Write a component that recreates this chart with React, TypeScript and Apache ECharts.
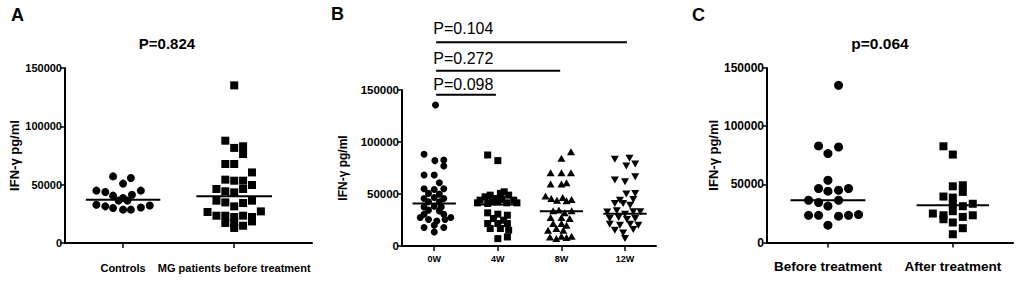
import React, { useEffect, useRef } from "react";
import * as echarts from "echarts";

// ---------- Panel A ----------
const panelACategories = ["Controls", "MG patients before treatment"];
const controlsValues = [57100, 55700, 50900, 44900, 43700, 44900, 40600, 41400, 38600, 36300, 36300, 32800, 31400, 30000, 28600, 28600, 30500, 32200];
const controlsJitter = [-0.09, 0.07, 0, -0.24, -0.16, 0.16, -0.09, 0.08, 0, -0.04, 0.04, -0.24, -0.16, -0.09, 0, 0.07, 0.16, 0.24];
const mgValues = [135100, 87700, 81500, 82900, 76300, 67700, 67700, 60500, 54300, 53400, 53400, 49700, 46300, 44300, 43400, 46300, 36300, 34800, 31400, 34300, 36300, 26600, 23400, 23400, 17200, 22300, 17000, 23400, 22300, 18500, 27100, 12900, 14800];
const mgJitter = [0, -0.08, 0, 0.08, 0.08, -0.08, 0, 0.16, -0.08, 0, 0.08, 0.16, -0.16, -0.08, 0, 0.08, -0.16, -0.08, 0, 0.08, 0.16, -0.24, -0.16, -0.08, -0.08, 0, 0, 0.08, 0.16, 0.16, 0.24, 0, 0.08];
const panelAMeans = [37100, 40000];
const panelATitle = "P=0.824";

// ---------- Panel B ----------
const panelBCategories = ["0W", "4W", "8W", "12W"];
const w0Values = [135500, 88200, 82100, 82700, 76900, 68200, 68200, 60800, 55000, 54400, 55000, 50600, 49900, 45700, 46700, 45700, 42500, 42500, 37600, 38300, 37600, 34500, 33800, 30600, 30600, 27400, 25500, 24100, 25500, 27400, 17800, 20000, 17800, 13500];
const w0Jitter = [0.02, -0.16, 0.01, 0.15, 0.15, -0.16, 0, 0.08, -0.16, 0, 0.15, -0.09, 0.08, -0.16, 0, 0.15, -0.09, 0.08, -0.16, 0, 0.11, -0.09, 0.08, -0.16, 0.15, -0.22, -0.09, 0.04, 0.17, 0.26, -0.16, 0, 0.15, 0];
const w4Values = [87500, 82100, 41500, 44100, 47300, 40900, 48900, 42500, 45700, 42500, 50600, 44800, 52100, 41500, 48900, 44100, 41500, 31900, 30600, 29600, 26400, 24800, 21600, 21600, 21600, 16800, 16800, 15200, 7100, 8700];
const w4Jitter = [-0.16, 0, -0.32, -0.28, -0.2, -0.16, -0.12, -0.09, -0.04, 0, 0.04, 0.06, 0.1, 0.14, 0.17, 0.25, 0.3, -0.16, 0, 0.15, -0.07, 0.09, -0.16, 0, 0.15, -0.12, 0.04, 0.17, 0, 0.15];
const w8Values = [90700, 84400, 70500, 70500, 70500, 59600, 59600, 60800, 48000, 45700, 44100, 46700, 43400, 44800, 33800, 34500, 31900, 33800, 27400, 27400, 26400, 21600, 21600, 20000, 15200, 16800, 15200, 8700, 7100, 9400, 8100, 9400];
const w8Jitter = [0.15, 0, -0.17, 0, 0.15, -0.17, 0, 0.08, -0.25, -0.16, -0.07, 0.02, 0.08, 0.16, -0.13, -0.04, 0.05, 0.16, -0.17, 0, 0.13, -0.13, 0, 0.08, -0.21, -0.08, 0.03, -0.18, -0.08, 0, 0.08, 0.16];
const w12Values = [83400, 84400, 78900, 76900, 63400, 61800, 66600, 49900, 50600, 44100, 44800, 40900, 40900, 39300, 32800, 33800, 30600, 32900, 32900, 26400, 27400, 25500, 26400, 20900, 20000, 20900, 20000, 15200, 12600, 15800, 7100];
const w12Jitter = [-0.16, 0.07, 0.16, 0.02, -0.16, 0, 0.16, 0.02, 0.16, -0.08, 0.13, -0.16, -0.03, 0.08, -0.28, -0.13, 0, 0.13, 0.24, -0.24, -0.1, 0.03, 0.16, -0.24, -0.08, 0.08, 0.21, -0.16, -0.03, 0.13, 0];
const panelBMeans = [40900, 40000, 33500, 31000];
const bracketLabels = ["P=0.098", "P=0.272", "P=0.104"];
const bracketStart = [1.03, 1.03, 1.03];
const bracketEnd = [1.97, 2.98, 4.03];
const bracketLevel = [145500, 168600, 195900];
const bracketTextX = [0.985, 0.985, 0.985];
const bracketTextLevel = [155100, 179900, 208900];

// ---------- Panel C ----------
const panelCCategories = ["Before treatment", "After treatment"];
const beforeValues = [135100, 83000, 82100, 76400, 53500, 46400, 44100, 44900, 46400, 36300, 34400, 31300, 36300, 23400, 23400, 22600, 23400, 24000, 14900];
const beforeJitter = [0.085, -0.075, 0.085, 0, 0, -0.075, 0, 0.085, 0.165, -0.155, -0.075, 0, 0.085, -0.155, -0.075, 0.085, 0.165, 0.245, 0];
const afterValues = [82700, 75600, 48300, 49200, 43500, 39500, 38600, 32900, 31200, 33300, 24900, 23400, 26900, 22000, 23400, 20000, 17200, 12300, 7100];
const afterJitter = [-0.075, 0, 0, 0.08, 0.08, -0.075, 0, 0, 0.08, 0.16, -0.16, -0.075, 0, 0.08, 0.16, -0.075, 0, 0.08, 0];
const panelCMeans = [36300, 32000];
const panelCTitle = "p=0.064";

const yTicks = { min: 0, max: 150000, interval: 50000 };
const FONT = "Liberation Sans, Arial, Helvetica, sans-serif";
const BLACK = "#000000";

function pts(cat: number, values: number[], jitter: number[]) {
  return values.map((v, i) => [cat + jitter[i], v]);
}

function dots(idx: number, cat: number, values: number[], jitter: number[], symbol: string, size: number | number[], rotate = 0) {
  return {
    type: "scatter",
    xAxisIndex: idx,
    yAxisIndex: idx,
    data: pts(cat, values, jitter),
    symbol,
    symbolSize: size,
    symbolRotate: rotate,
    itemStyle: { color: BLACK, opacity: 1 },
    silent: true,
    z: 3,
  };
}

function meanLine(idx: number, cat: number, mean: number, half: number) {
  return {
    type: "line",
    xAxisIndex: idx,
    yAxisIndex: idx,
    data: [
      [cat - half, mean],
      [cat + half, mean],
    ],
    symbol: "none",
    lineStyle: { color: BLACK, width: 2 },
    silent: true,
    z: 4,
  };
}

function xAxis(idx: number, cats: string[], min: number, max: number, fontSize: number, margin: number) {
  const vals = cats.map((_, i) => i + 1);
  return {
    gridIndex: idx,
    type: "value",
    min,
    max,
    axisLine: { show: true, onZero: false, lineStyle: { color: BLACK, width: 2 } },
    axisTick: { show: true, customValues: vals, length: 5, lineStyle: { color: BLACK, width: 1.5 } },
    axisLabel: {
      customValues: vals,
      formatter: (v: number) => cats[Math.round(v) - 1] ?? "",
      fontSize,
      fontWeight: "bold",
      color: BLACK,
      fontFamily: FONT,
      margin,
    },
    splitLine: { show: false },
  };
}

function yAxis(idx: number, fontSize: number, nameGap: number, nameSize: number) {
  return {
    gridIndex: idx,
    type: "value",
    ...yTicks,
    axisLine: { show: true, lineStyle: { color: BLACK, width: 2 } },
    axisTick: { show: true, length: 5, lineStyle: { color: BLACK, width: 1.5 } },
    axisLabel: {
      fontSize,
      fontWeight: "bold",
      color: BLACK,
      fontFamily: FONT,
      margin: 3,
      formatter: (v: number) => String(v),
    },
    splitLine: { show: false },
    name: "IFN-γ pg/ml",
    nameLocation: "middle",
    nameGap,
    nameTextStyle: { fontSize: nameSize, fontWeight: "bold", color: BLACK, fontFamily: FONT },
  };
}

export default function App() {
  const ref = useRef<HTMLDivElement>(null);

  useEffect(() => {
    document.body.style.margin = "0";
    if (!ref.current) return;
    const chart = echarts.init(ref.current, null, { renderer: "svg" });

    const series: any[] = [
      dots(0, 1, controlsValues, controlsJitter, "circle", 8),
      dots(0, 2, mgValues, mgJitter, "rect", 8),
      meanLine(0, 1, panelAMeans[0], 0.335),
      meanLine(0, 2, panelAMeans[1], 0.34),

      dots(1, 1, w0Values, w0Jitter, "circle", 7),
      dots(1, 2, w4Values, w4Jitter, "rect", 7),
      dots(1, 3, w8Values, w8Jitter, "triangle", [8, 7]),
      dots(1, 4, w12Values, w12Jitter, "triangle", [8, 7], 180),
      ...panelBMeans.map((m, i) => meanLine(1, i + 1, m, 0.34)),
      ...bracketLabels.map((_, i) => ({
        type: "line",
        xAxisIndex: 1,
        yAxisIndex: 1,
        clip: false,
        data: [
          [bracketStart[i], bracketLevel[i]],
          [bracketEnd[i], bracketLevel[i]],
        ],
        symbol: "none",
        lineStyle: { color: BLACK, width: 2 },
        silent: true,
      })),
      {
        type: "scatter",
        xAxisIndex: 1,
        yAxisIndex: 1,
        clip: false,
        symbolSize: 0,
        itemStyle: { color: BLACK },
        data: bracketTextX.map((x, i) => [x, bracketTextLevel[i]]),
        label: {
          show: true,
          position: "right",
          distance: 0,
          formatter: (p: any) => bracketLabels[p.dataIndex],
          fontSize: 16,
          color: BLACK,
          opacity: 1,
          fontFamily: FONT,
        },
        silent: true,
      },

      dots(2, 1, beforeValues, beforeJitter, "circle", 9),
      dots(2, 2, afterValues, afterJitter, "rect", 8),
      meanLine(2, 1, panelCMeans[0], 0.3),
      meanLine(2, 2, panelCMeans[1], 0.29),
    ];

    const txt = (text: string, x: number, y: number, size: number, bold = true) => ({
      type: "text",
      x,
      y,
      silent: true,
      style: {
        text,
        fontSize: size,
        fontWeight: bold ? "bold" : "normal",
        fontFamily: FONT,
        fill: BLACK,
        textAlign: "center",
        textVerticalAlign: "middle",
      },
    });

    chart.setOption({
      animation: false,
      backgroundColor: "#fff",
      tooltip: { show: false },
      grid: [
        { left: 65, top: 68, width: 247, height: 175 },
        { left: 402, top: 90, width: 254, height: 156 },
        { left: 767, top: 68, width: 246, height: 174.5 },
      ],
      xAxis: [
        xAxis(0, panelACategories, 0.4775, 2.7, 11, 19),
        xAxis(1, panelBCategories, 0.493, 4.487, 9, 8),
        xAxis(2, panelCCategories, 0.512, 2.482, 13.5, 17),
      ],
      yAxis: [yAxis(0, 11, 41, 13), yAxis(1, 11.5, 53, 12), yAxis(2, 12, 47, 13)],
      series,
      graphic: [
        txt("A", 17.5, 15, 18),
        txt("B", 337.5, 14, 18),
        txt("C", 698.5, 15, 18),
        txt(panelATitle, 167, 43, 15),
        txt(panelCTitle, 880, 43, 15.5),
      ],
    });

    return () => chart.dispose();
  }, []);

  return <div ref={ref} style={{ width: 1020, height: 282 }} />;
}
